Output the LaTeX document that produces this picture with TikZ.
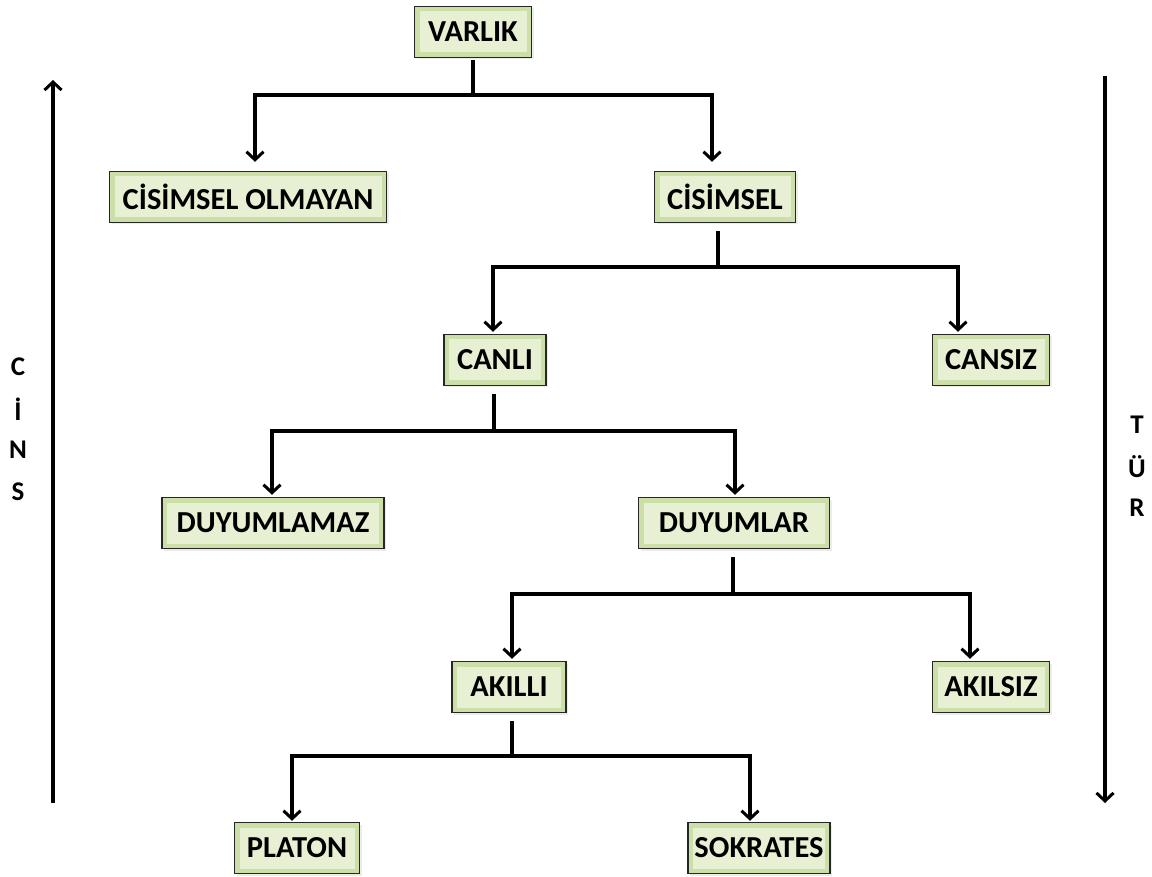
\documentclass[tikz,border=0pt]{standalone}
\usepackage{fontspec}
\setmainfont{Carlito}
\usetikzlibrary{arrows.meta,shadows}
\definecolor{bevelout}{HTML}{CCDFA8}
\definecolor{bevelin}{HTML}{E7F0D2}
\tikzset{
  box/.style={draw=black!85, line width=1.4pt, fill=bevelout,
    minimum height=51pt, inner sep=0pt, font=\bfseries\fontsize{30.5}{33}\selectfont,
    drop shadow={opacity=0.15, shadow xshift=2pt, shadow yshift=-2pt},
    path picture={\fill[bevelin] ([shift={(5pt,-5pt)}]path picture bounding box.north west)
       rectangle ([shift={(-5pt,5pt)}]path picture bounding box.south east);}},
  conn/.style={line width=3.2pt, black},
  arr/.style={conn, -{Straight Barb[length=8pt,width=17pt,line width=3pt]}},
  side/.style={font=\bfseries\fontsize{27}{30}\selectfont, inner sep=0pt},
}
\begin{document}
\begin{tikzpicture}[x=1pt,y=-1pt]
\useasboundingbox (0,0) rectangle (1152,877);
\fill[white] (0,0) rectangle (1152,877);
% nodes
\node[box, minimum width=117pt] (varlik) at (473,32) {VARLIK};
\node[box, minimum width=277pt] (colmayan) at (248,197) {C\.ISİMSEL OLMAYAN};
\node[box, minimum width=141pt] (cisimsel) at (725,197) {C\.ISİMSEL};
\node[box, minimum width=102pt] (canli) at (495,360) {CANLI};
\node[box, minimum width=117pt] (cansiz) at (991,360) {CANSIZ};
\node[box, minimum width=222pt] (duyumlamaz) at (273,523) {DUYUMLAMAZ};
\node[box, minimum width=191pt] (duyumlar) at (734,523) {DUYUMLAR};
\node[box, minimum width=114pt] (akilli) at (509,687) {AKILLI};
\node[box, minimum width=117pt] (akilsiz) at (991,687) {AKILSIZ};
\node[box, minimum width=125pt] (platon) at (297,848) {PLATON};
\node[box, minimum width=142pt] (sokrates) at (759,848) {SOKRATES};
% junctions
\coordinate (j1) at (473,95);
\coordinate (j2) at (718,267);
\coordinate (j3) at (494,431);
\coordinate (j4) at (733,594);
\coordinate (j5) at (512,756);
% level 1
\draw[conn, shorten <=2pt] (varlik.south) -- (j1);
\draw[arr, shorten >=9pt] (j1) -| ([xshift=7pt]colmayan.north);
\draw[arr, shorten >=9pt] (j1) -| ([xshift=-13pt]cisimsel.north);
% level 2
\draw[conn, shorten <=8pt] ([xshift=-7pt]cisimsel.south) -- (j2);
\draw[arr, shorten >=2pt] (j2) -| ([xshift=-2pt]canli.north);
\draw[arr, shorten >=2pt] (j2) -| ([xshift=-33pt]cansiz.north);
% level 3
\draw[conn, shorten <=8pt] ([xshift=-1pt]canli.south) -- (j3);
\draw[arr, shorten >=2pt] (j3) -| ([xshift=-1pt]duyumlamaz.north);
\draw[arr, shorten >=2pt] (j3) -| ([xshift=1pt]duyumlar.north);
% level 4
\draw[conn, shorten <=8pt] ([xshift=-1pt]duyumlar.south) -- (j4);
\draw[arr, shorten >=2pt] (j4) -| ([xshift=3pt]akilli.north);
\draw[arr, shorten >=2pt] (j4) -| ([xshift=-21pt]akilsiz.north);
% level 5
\draw[conn, shorten <=8pt] ([xshift=3pt]akilli.south) -- (j5);
\draw[arr, shorten >=1pt] (j5) -| ([xshift=-5pt]platon.north);
\draw[arr, shorten >=1pt] (j5) -| ([xshift=-9pt]sokrates.north);
% side arrows
\coordinate (lb) at (53,803);
\coordinate (lt) at (53,80);
\coordinate (rt) at (1105,76);
\coordinate (rb) at (1105,803);
\draw[arr] (lb) -- (lt);
\draw[arr] (rt) -- (rb);
% side labels
\node[side] (c1) at (18,367) {C};
\node[side] (c2) at (18,409) {\.I};
\node[side] (c3) at (18,450) {N};
\node[side] (c4) at (18,492) {S};
\node[side] (t1) at (1137,425) {T};
\node[side] (t2) at (1137,467) {Ü};
\node[side] (t3) at (1137,508) {R};
\end{tikzpicture}
\end{document}
